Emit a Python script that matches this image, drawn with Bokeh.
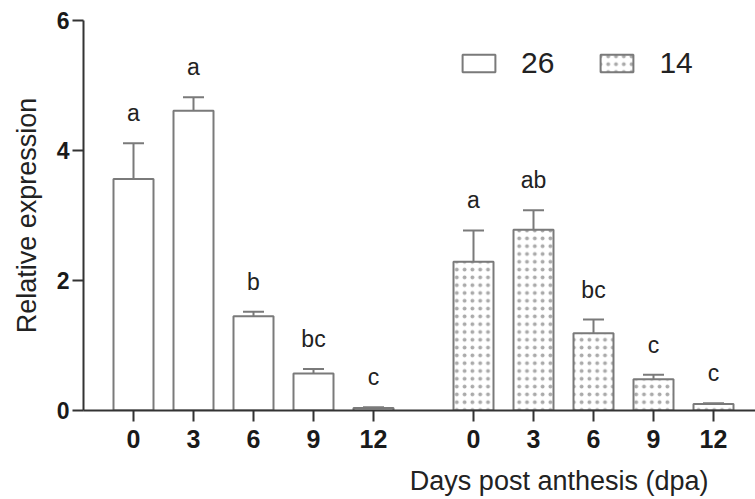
from bokeh.plotting import figure
from bokeh.models import (ColumnDataSource, FixedTicker, Range1d, Legend, LegendItem, Title)
from bokeh.core.properties import value
from bokeh.embed import file_html
from bokeh.resources import INLINE

# Relative expression over days post anthesis for the two temperature regimes
days = [0, 3, 6, 9, 12]
mean_26 = [3.56, 4.61, 1.45, 0.57, 0.04]
err_26 = [0.55, 0.21, 0.07, 0.07, 0.01]
sig_26 = ["a", "a", "b", "bc", "c"]
mean_14 = [2.29, 2.78, 1.19, 0.48, 0.10]
err_14 = [0.48, 0.30, 0.21, 0.07, 0.01]
sig_14 = ["a", "ab", "bc", "c", "c"]
series_names = ["26", "14"]
y_ticks = [0, 2, 4, 6]

FONT = "Liberation Sans"
BAR_LINE = "#7a7a7a"
AXIS = "#333333"
SHIFT = 17          # horizontal offset of the second group of bars
BAR_W = 2

x26 = [d for d in days]
x14 = [d + SHIFT for d in days]

p = figure(width=755, height=499, output_backend="svg", toolbar_location=None,
           x_range=Range1d(-2.5, 31.1), y_range=Range1d(0, 6),
           min_border_left=83, min_border_right=0, min_border_top=20,
           min_border_bottom=89)
p.outline_line_color = None
p.grid.visible = False
p.background_fill_color = "white"
p.border_fill_color = "white"

def group(xs, means, errs, sigs, hatch):
    src = ColumnDataSource(dict(x=xs, top=means,
                                hi=[m + e for m, e in zip(means, errs)],
                                sig=sigs))
    kw = dict(fill_color="white", line_color=BAR_LINE, line_width=2)
    if hatch:
        kw.update(hatch_pattern="dot", hatch_color="#aaaaaa",
                  hatch_scale=7.8, hatch_weight=0.5)
    r = p.vbar(x="x", top="top", bottom=0, width=BAR_W, source=src, **kw)
    p.segment(x0="x", y0="top", x1="x", y1="hi", source=src,
              line_color=BAR_LINE, line_width=2)
    p.scatter(x="x", y="hi", marker="dash", size=21, source=src,
              line_color=BAR_LINE, line_width=2)
    p.text(x="x", y="hi", text="sig", source=src, y_offset=-30,
           text_align="center", text_baseline="middle",
           text_font=value(FONT), text_font_size="23px", text_color="#222222")
    return r

r26 = group(x26, mean_26, err_26, sig_26, False)
r14 = group(x14, mean_14, err_14, sig_14, True)

# x axis: one tick per bar, labelled by day
xa = p.xaxis[0]
xa.ticker = FixedTicker(ticks=x26 + x14)
xa.major_label_overrides = {x: str(d) for x, d in zip(x26 + x14, days + days)}
xa.minor_tick_line_color = None
xa.major_tick_in = 0
xa.major_tick_out = 11
xa.major_tick_line_width = 2
xa.major_tick_line_color = AXIS
xa.axis_line_width = 2
xa.axis_line_color = AXIS
xa.major_label_text_font = FONT
xa.major_label_text_font_style = "bold"
xa.major_label_text_font_size = "25px"
xa.major_label_text_color = "#1a1a1a"
xa.major_label_standoff = 8
# small blank spacer between the tick labels and the axis title
xa.axis_label = "\u00a0"
xa.axis_label_text_font_size = "5px"
xa.axis_label_standoff = 0

ya = p.yaxis[0]
ya.ticker = FixedTicker(ticks=y_ticks)
ya.minor_tick_line_color = None
ya.major_tick_in = 0
ya.major_tick_out = 11
ya.major_tick_line_width = 2
ya.major_tick_line_color = AXIS
ya.axis_line_width = 2
ya.axis_line_color = AXIS
ya.major_label_text_font = FONT
ya.major_label_text_font_style = "bold"
ya.major_label_text_font_size = "23px"
ya.major_label_text_color = "#1a1a1a"
ya.major_label_standoff = 3
ya.axis_label = "Relative expression"
ya.axis_label_text_font = FONT
ya.axis_label_text_font_style = "normal"
ya.axis_label_text_font_size = "27px"
ya.axis_label_text_color = "#222222"
ya.axis_label_standoff = 12

# axis title, right-aligned under the second group
p.add_layout(Title(text="Days post anthesis (dpa)", align="right", offset=47,
                   text_font=FONT, text_font_size="27px",
                   text_font_style="normal", text_color="#222222",
                   standoff=8), "below")

legend = Legend(items=[LegendItem(label=series_names[0], renderers=[r26]),
                       LegendItem(label=series_names[1], renderers=[r14])],
                orientation="horizontal", location=(375, 330),
                glyph_width=41, glyph_height=22, label_standoff=22,
                spacing=42, padding=0, margin=0,
                border_line_color=None, background_fill_alpha=0,
                label_text_font=FONT, label_text_font_size="30px",
                label_text_color="#222222")
p.add_layout(legend)

open("out.html", "w").write(file_html(p, INLINE))
